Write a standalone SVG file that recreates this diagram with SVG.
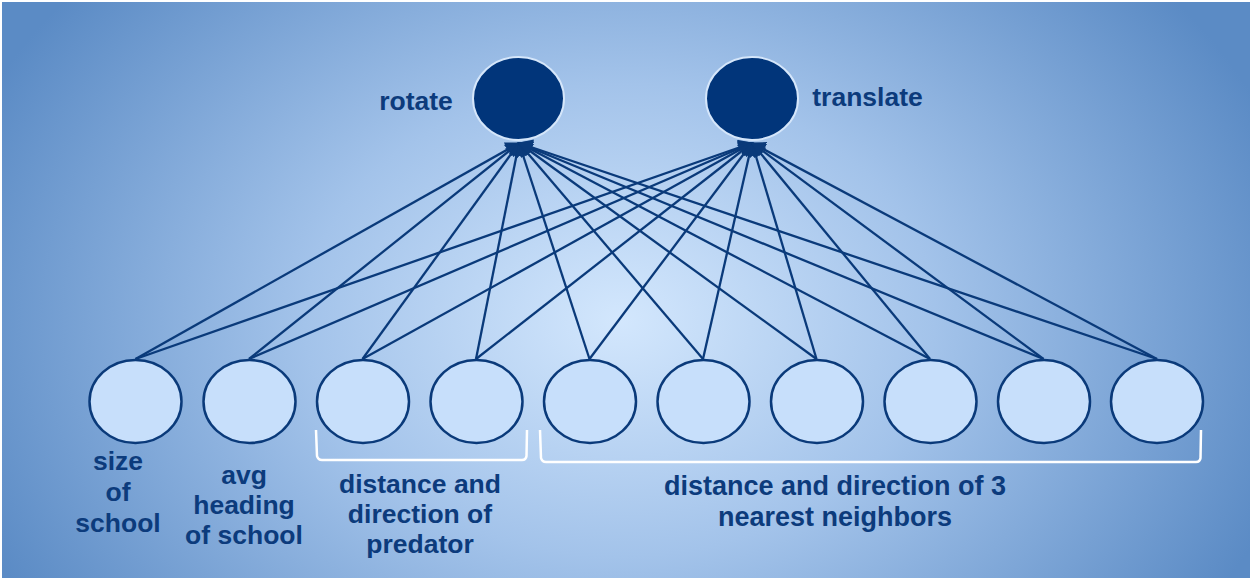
<svg xmlns="http://www.w3.org/2000/svg" width="1250" height="578" viewBox="0 0 1250 578">
<defs>
<radialGradient id="bg" gradientUnits="userSpaceOnUse" cx="620" cy="320" r="700" gradientTransform="translate(620 320) scale(1 0.75) translate(-620 -320)">
<stop offset="0" stop-color="#d3e7fd"/>
<stop offset="0.45" stop-color="#a3c3ea"/>
<stop offset="1" stop-color="#5b8bc5"/>
</radialGradient>
<marker id="ah" viewBox="0 0 14 16" refX="13" refY="8" markerWidth="14" markerHeight="16" markerUnits="userSpaceOnUse" orient="auto">
<path d="M0,0 L14,8 L0,16 z" fill="#0a3a7a"/>
</marker>
<style>
.out{fill:#01357a;stroke:#d5e6fa;stroke-width:2}
.in{fill:#c7dffb;stroke:#0a3a7a;stroke-width:2.5}
.c line{stroke:#0a3a7a;stroke-width:2.3;marker-end:url(#ah)}
.br{fill:none;stroke:#ffffff;stroke-width:2.5;stroke-linejoin:round}
text{font-family:"Liberation Sans",Arial,sans-serif;font-weight:bold;font-size:26.5px;fill:#0c3b7c}
.m{text-anchor:middle}
</style>
</defs>
<rect x="0" y="0" width="1250" height="578" fill="#ffffff"/>
<rect x="2" y="2" width="1248" height="576" fill="url(#bg)"/>

<g id="connectors" class="c">
<line x1="135.5" y1="359" x2="519" y2="143"/>
<line x1="249" y1="359" x2="519" y2="143"/>
<line x1="362.5" y1="359" x2="519" y2="143"/>
<line x1="476" y1="359" x2="519" y2="143"/>
<line x1="589.5" y1="359" x2="519" y2="143"/>
<line x1="703" y1="359" x2="519" y2="143"/>
<line x1="816.5" y1="359" x2="519" y2="143"/>
<line x1="930" y1="359" x2="519" y2="143"/>
<line x1="1043.5" y1="359" x2="519" y2="143"/>
<line x1="1157" y1="359" x2="519" y2="143"/>
<line x1="135.5" y1="359" x2="752" y2="143"/>
<line x1="249" y1="359" x2="752" y2="143"/>
<line x1="362.5" y1="359" x2="752" y2="143"/>
<line x1="476" y1="359" x2="752" y2="143"/>
<line x1="589.5" y1="359" x2="752" y2="143"/>
<line x1="703" y1="359" x2="752" y2="143"/>
<line x1="816.5" y1="359" x2="752" y2="143"/>
<line x1="930" y1="359" x2="752" y2="143"/>
<line x1="1043.5" y1="359" x2="752" y2="143"/>
<line x1="1157" y1="359" x2="752" y2="143"/>
</g>

<g id="rotate"><ellipse class="out" cx="518.5" cy="98.5" rx="45.5" ry="41.5"/><text x="416" y="110" class="m">rotate</text></g>
<g id="translate"><ellipse class="out" cx="752" cy="98.5" rx="46" ry="41.5"/><text x="867.5" y="106" class="m">translate</text></g>

<g id="in1"><ellipse class="in" cx="135.5" cy="401.5" rx="46" ry="41.5"/></g>
<g id="in2"><ellipse class="in" cx="249.5" cy="401.5" rx="46" ry="41.5"/></g>
<g id="in3"><ellipse class="in" cx="363" cy="401.5" rx="46" ry="41.5"/></g>
<g id="in4"><ellipse class="in" cx="476.5" cy="401.5" rx="46" ry="41.5"/></g>
<g id="in5"><ellipse class="in" cx="590" cy="401.5" rx="46" ry="41.5"/></g>
<g id="in6"><ellipse class="in" cx="703.5" cy="401.5" rx="46" ry="41.5"/></g>
<g id="in7"><ellipse class="in" cx="817" cy="401.5" rx="46" ry="41.5"/></g>
<g id="in8"><ellipse class="in" cx="930.5" cy="401.5" rx="46" ry="41.5"/></g>
<g id="in9"><ellipse class="in" cx="1044" cy="401.5" rx="46" ry="41.5"/></g>
<g id="in10"><ellipse class="in" cx="1157" cy="401.5" rx="46" ry="41.5"/></g>

<g id="label-size"><text x="118" y="470" class="m">size</text><text x="118" y="501" class="m">of</text><text x="118" y="532" class="m">school</text></g>
<g id="label-avg"><text x="244" y="484" class="m">avg</text><text x="244" y="514" class="m">heading</text><text x="244" y="544" class="m">of school</text></g>

<g id="bracket-predator"><path class="br" d="M316,430 L317,456 Q318,460 322,460 L522,460 Q526,460 526.5,456 L527,430"/>
<text x="420" y="493" class="m">distance and</text><text x="420" y="523" class="m">direction of</text><text x="420" y="553" class="m">predator</text></g>
<g id="bracket-neighbors"><path class="br" d="M540,430 L541,458 Q542,462 546,462 L1196,462 Q1200,462 1200.5,458 L1201,430"/>
<text x="835" y="495" class="m" style="font-size:27px">distance and direction of 3</text><text x="835" y="526" class="m" style="font-size:27px">nearest neighbors</text></g>
</svg>
